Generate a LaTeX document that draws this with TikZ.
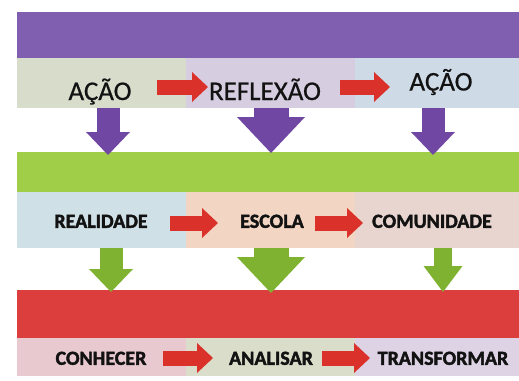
\documentclass[tikz,border=0pt]{standalone}
\usepackage{fontspec}
\setmainfont{Carlito}
\newfontfamily\plainfont[FakeBold=0.6]{Carlito}
\newfontfamily\heavyfont[FakeBold=2]{Carlito Bold}
\usetikzlibrary{arrows.meta,calc,backgrounds}

\definecolor{barpurple}{RGB}{128,94,176}
\definecolor{arrpurple}{RGB}{112,72,164}
\definecolor{bargreen}{RGB}{160,206,72}
\definecolor{arrgreen}{RGB}{128,178,50}
\definecolor{barred}{RGB}{220,62,62}
\definecolor{arrred}{RGB}{218,50,42}
\definecolor{ink}{RGB}{18,18,18}
\definecolor{cellAa}{RGB}{215,220,203}
\definecolor{cellAb}{RGB}{214,205,225}
\definecolor{cellAc}{RGB}{206,219,230}
\definecolor{cellBa}{RGB}{207,224,230}
\definecolor{cellBb}{RGB}{243,213,196}
\definecolor{cellBc}{RGB}{232,213,207}
\definecolor{cellCa}{RGB}{232,201,207}
\definecolor{cellCb}{RGB}{219,221,203}
\definecolor{cellCc}{RGB}{221,211,228}

\begin{document}
\begin{tikzpicture}[x=1pt,y=-1pt,
    bar/.style={anchor=north west,inner sep=0pt,outer sep=0pt,minimum width=502pt},
    cell/.style={anchor=north west,inner sep=0pt,outer sep=0pt},
    bigtxt/.style={inner sep=0pt,text=ink,font=\plainfont\fontsize{27}{27}\selectfont,text height=17pt,text depth=0pt},
    boldtxt/.style={inner sep=0pt,text=ink,font=\heavyfont\fontsize{20}{20}\selectfont,text height=12.6pt,text depth=0pt},
    side/.style={draw=arrred,line width=15pt,-{Triangle[length=16pt,width=30pt,line width=0pt]}},
    thindown/.style={line width=23pt,-{Triangle[length=23pt,width=44pt,line width=0pt]}},
    widedown/.style={line width=35pt,-{Triangle[length=36pt,width=68pt,line width=0pt]}},
    blockshade/.style={fill=black!35}]

  % Frame
  \useasboundingbox[fill=white] (0,0) rectangle (519,380);

  % First band
  \node[bar,fill=barpurple,minimum height=46pt] (bar1) at (17,12) {};
  \node[cell,fill=cellAa,minimum width=169pt,minimum height=50pt] (c11) at (bar1.south west) {};
  \node[cell,fill=cellAb,minimum width=169pt,minimum height=50pt] (c12) at (c11.north east) {};
  \node[cell,fill=cellAc,minimum width=164pt,minimum height=50pt] (c13) at (c12.north east) {};
  \node[bigtxt] (t11) at (100,91.5) {AÇÃO};
  \node[bigtxt] (t12) at (265,91.5) {REFLEXÃO};
  \node[bigtxt] (t13) at (441,82) {AÇÃO};

  % Second band
  \node[bar,fill=bargreen,minimum height=40pt] (bar2) at (17,152) {};
  \node[cell,fill=cellBa,minimum width=169pt,minimum height=56pt] (c21) at (bar2.south west) {};
  \node[cell,fill=cellBb,minimum width=169pt,minimum height=56pt] (c22) at (c21.north east) {};
  \node[cell,fill=cellBc,minimum width=164pt,minimum height=56pt] (c23) at (c22.north east) {};
  \node[boldtxt] (t21) at (101,221.5) {REALIDADE};
  \node[boldtxt] (t22) at (272,221.5) {ESCOLA};
  \node[boldtxt] (t23) at (432,221.5) {COMUNIDADE};

  % Third band
  \node[bar,fill=barred,minimum height=48pt] (bar3) at (17,290) {};
  \node[cell,fill=cellCa,minimum width=169pt,minimum height=38pt] (c31) at (bar3.south west) {};
  \node[cell,fill=cellCb,minimum width=169pt,minimum height=38pt] (c32) at (c31.north east) {};
  \node[cell,fill=cellCc,minimum width=164pt,minimum height=38pt] (c33) at (c32.north east) {};
  \node[boldtxt] (t31) at (101,358.5) {CONHECER};
  \node[boldtxt] (t32) at (271,358.5) {ANALISAR};
  \node[boldtxt] (t33) at (443,358.5) {TRANSFORMAR};

  % Shadows
  \begin{scope}[on background layer]
    \fill[blockshade] ($(bar1.north west)+(-1.5,1.5)$) rectangle ($(c13.south east)+(0,1.5)$);
    \fill[blockshade] ($(bar2.north west)+(-1.5,1.5)$) rectangle ($(c23.south east)+(0,1.5)$);
    \fill[blockshade] ($(bar3.north west)+(-1.5,1.5)$) rectangle ($(c33.south east)+(0,1.5)$);
  \end{scope}

  % Side arrows
  \draw[side] ($(c11.east)+(-29,4)$) -- ($(c12.west)+(22,4)$);
  \draw[side] ($(c12.east)+(-15,4)$) -- ($(c13.west)+(35,4)$);
  \draw[side] ($(c21.east)+(-16,3)$) -- ($(c22.west)+(32,3)$);
  \draw[side] ($(c22.east)+(-40,3)$) -- ($(c23.west)+(8,3)$);
  \draw[side] ($(c31.east)+(-23,1)$) -- ($(c32.west)+(27,1)$);
  \draw[side] ($(c32.east)+(-33,1)$) -- ($(c33.west)+(15,1)$);

  % Down arrows
  \draw[thindown,arrpurple] ($(c11.south)+(6.5,0)$) -- ($(c11.south |- bar2.north)+(6.5,3)$);
  \draw[widedown,arrpurple] ($(c12.south)+(0.5,0)$) -- ($(c12.south |- bar2.north)+(0.5,1)$);
  \draw[thindown,arrpurple] ($(c13.south)+(-4,0)$) -- ($(c13.south |- bar2.north)+(-4,3)$);
  \draw[thindown,arrgreen] ($(c21.south)+(9.5,0)$) -- ($(c21.south |- bar3.north)+(9.5,2)$);
  \draw[widedown,arrgreen] ($(c22.south)+(0.5,0)$) -- ($(c22.south |- bar3.north)+(0.5,3)$);
  \draw[thindown,arrgreen,line width=18pt,-{Triangle[length=26pt,width=39pt,line width=0pt]}]
    ($(c23.south)+(6,0)$) -- ($(c23.south |- bar3.north)+(6,2)$);
\end{tikzpicture}
\end{document}
